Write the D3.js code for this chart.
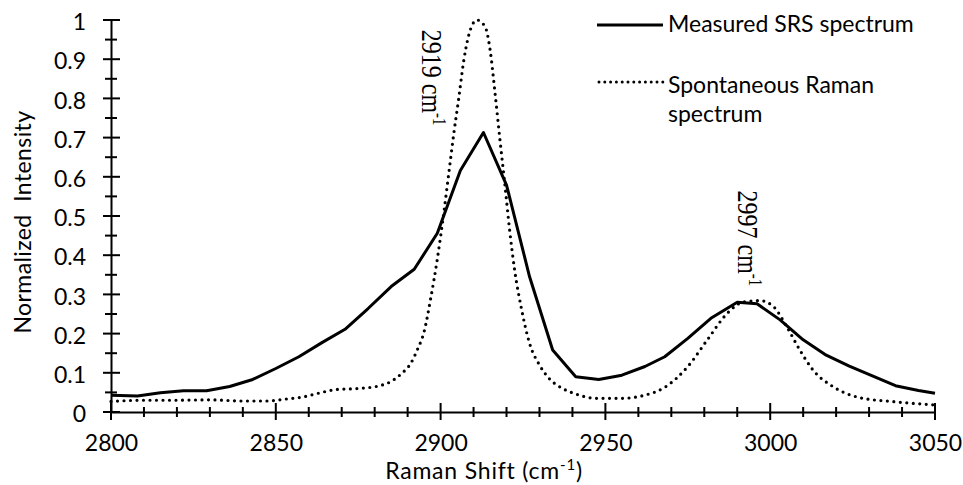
<!DOCTYPE html>
<meta charset="utf-8">
<head>
<style>
  body { margin: 0; background: #fff; }
  .tick-label { font: 23px Lato, sans-serif; fill: #000; }
  .title { font: 23px Lato, sans-serif; fill: #000; }
  .legend { font: 23px Lato, sans-serif; fill: #000; }
  .peak { font: 24px "Liberation Serif", "Times New Roman", serif; fill: #000; }
</style>
</head>
<body>
<svg id="chart"></svg>
<script src="https://d3js.org/d3.v7.min.js"></script>
<script>

// measured SRS spectrum (vertices of the solid line)
var srsShift = [2800, 2808, 2815, 2822, 2829, 2836, 2843, 2850, 2857, 2864, 2871, 2878, 2885, 2892,
                2899, 2906, 2913, 2920, 2927, 2934, 2941, 2948, 2955, 2962, 2968, 2975, 2982, 2990,
                2996, 3003, 3010, 3017, 3024, 3031, 3038, 3045, 3050];
var srsIntensity = [0.043, 0.041, 0.049, 0.054, 0.054, 0.065, 0.083, 0.111, 0.141, 0.177, 0.211, 0.264, 0.320, 0.364,
                    0.456, 0.616, 0.713, 0.579, 0.345, 0.158, 0.090, 0.083, 0.094, 0.116, 0.141, 0.188, 0.239, 0.280,
                    0.276, 0.235, 0.184, 0.145, 0.117, 0.092, 0.067, 0.055, 0.048];

// spontaneous Raman spectrum (dotted)
var ramanShift = [2800, 2810, 2820, 2830, 2840, 2847, 2853, 2858, 2863, 2868, 2875, 2881, 2885, 2888,
                  2891, 2893, 2895, 2897, 2899, 2901, 2902.5, 2904, 2905.5, 2907, 2908.5, 2911, 2913.5,
                  2915, 2916.5, 2918, 2919.5, 2921, 2922.5, 2924.5, 2927, 2930, 2933, 2937, 2941, 2947,
                  2955, 2962, 2968, 2975, 2981, 2987, 2992, 2997, 3001, 3005, 3009, 3013, 3019, 3027,
                  3038, 3050];
var ramanIntensity = [0.027, 0.030, 0.030, 0.031, 0.028, 0.028, 0.033, 0.038, 0.048, 0.057, 0.060, 0.066, 0.078, 0.097,
                      0.125, 0.160, 0.205, 0.290, 0.390, 0.510, 0.610, 0.710, 0.800, 0.895, 0.960, 1.000, 0.983,
                      0.925, 0.815, 0.695, 0.580, 0.460, 0.360, 0.265, 0.175, 0.120, 0.085, 0.060, 0.046, 0.035,
                      0.035, 0.043, 0.063, 0.116, 0.185, 0.252, 0.281, 0.284, 0.269, 0.218, 0.158, 0.107, 0.065, 0.037,
                      0.026, 0.018];

var xTicks = [2800, 2850, 2900, 2950, 3000, 3050];
var xMinorTicks = d3.range(2800, 3051, 10);
var yTicks = [0, 0.1, 0.2, 0.3, 0.4, 0.5, 0.6, 0.7, 0.8, 0.9, 1];
var yTickLabels = ["0", "0.1", "0.2", "0.3", "0.4", "0.5", "0.6", "0.7", "0.8", "0.9", "1"];
var yMinorTicks = d3.range(0, 1.001, 0.05);

var legendLabels = [["Measured SRS spectrum"], ["Spontaneous Raman", "spectrum"]];
var peakLabels = ["2919", "2997"];
var peakAnchors = [[2894.5, 0.975], [2990.2, 0.565]];   // shift, intensity where the text starts

var W = 963, H = 485;
var margin = {top: 20, right: 28, bottom: 73, left: 111},
    width = W - margin.left - margin.right,
    height = H - margin.top - margin.bottom;

var svg = d3.select("#chart").attr("width", W).attr("height", H);
var g = svg.append("g").attr("transform", "translate(" + margin.left + "," + margin.top + ")");

var x = d3.scaleLinear().domain([2800, 3050]).range([0, width]);
var y = d3.scaleLinear().domain([0, 1]).range([height, 0]);

// axes: domain + labels from d3, cross ticks drawn by hand
var xAxis = g.append("g")
    .attr("transform", "translate(0," + height + ")")
    .call(d3.axisBottom(x).tickValues(xTicks).tickSize(0).tickFormat(d3.format("d")));
xAxis.select(".domain").attr("stroke", "#000").attr("stroke-width", 2);
xAxis.selectAll("text").attr("class", "tick-label").attr("y", 39).attr("dy", 0);
xAxis.attr("font-size", null).attr("font-family", null);

var yAxis = g.append("g")
    .call(d3.axisLeft(y).tickValues(yTicks).tickSize(0).tickFormat(function(d, i) { return yTickLabels[i]; }));
yAxis.select(".domain").attr("stroke", "#000").attr("stroke-width", 2);
yAxis.selectAll("text").attr("class", "tick-label").attr("x", -25).attr("dy", "0.42em");
yAxis.attr("font-size", null).attr("font-family", null);

g.selectAll(".xminor").data(xMinorTicks).enter().append("line")
    .attr("x1", function(d) { return x(d); }).attr("x2", function(d) { return x(d); })
    .attr("y1", function(d) { return height - (d % 50 === 0 ? 9 : 5); })
    .attr("y2", function(d) { return height + (d % 50 === 0 ? 8 : 5); })
    .attr("stroke", "#000").attr("stroke-width", 2);

g.selectAll(".yminor").data(yMinorTicks).enter().append("line")
    .attr("y1", function(d) { return y(d); }).attr("y2", function(d) { return y(d); })
    .attr("x1", function(d, i) { return i % 2 === 0 ? -8 : -6; })
    .attr("x2", function(d, i) { return i % 2 === 0 ? 9 : 6; })
    .attr("stroke", "#000").attr("stroke-width", 2);

// lines
var solid = d3.line()
    .x(function(d) { return x(d[0]); })
    .y(function(d) { return y(d[1]); });
var smooth = d3.line()
    .x(function(d) { return x(d[0]); })
    .y(function(d) { return y(d[1]); })
    .curve(d3.curveMonotoneX);

g.append("path")
    .datum(d3.zip(ramanShift, ramanIntensity))
    .attr("d", smooth)
    .attr("fill", "none").attr("stroke", "#000")
    .attr("stroke-width", 3.2).attr("stroke-linecap", "round")
    .attr("stroke-dasharray", "0,6.5");

g.append("path")
    .datum(d3.zip(srsShift, srsIntensity))
    .attr("d", solid)
    .attr("fill", "none").attr("stroke", "#000")
    .attr("stroke-width", 3).attr("stroke-linejoin", "round");

// peak annotations (rotated, serif)
peakLabels.forEach(function(t, i) {
  var px = margin.left + x(peakAnchors[i][0]), py = margin.top + y(peakAnchors[i][1]);
  var txt = svg.append("text").attr("class", "peak")
      .attr("transform", "translate(" + px + "," + py + ") rotate(90) scale(1,1.2)");
  txt.append("tspan").text(t + " cm");
  txt.append("tspan").attr("font-size", 15).attr("dy", -9).text("-1");
});

// axis titles
svg.append("text").attr("class", "title")
    .attr("transform", "translate(31," + (margin.top + height / 2 + 6) + ") rotate(-90)")
    .attr("text-anchor", "middle")
    .style("white-space", "pre")
    .style("letter-spacing", "0.4px")
    .text("Normalized  Intensity");

var xt = svg.append("text").attr("class", "title")
    .attr("x", 484).attr("y", 479).attr("text-anchor", "middle")
    .style("letter-spacing", "0.8px");
xt.append("tspan").text("Raman Shift (cm");
xt.append("tspan").attr("font-size", 15).attr("dy", -9).text("-1");
xt.append("tspan").attr("dy", 9).text(")");

// legend
var legend = svg.append("g").attr("transform", "translate(597,25)");
legend.append("line").attr("x1", 0).attr("x2", 66).attr("y1", 0).attr("y2", 0)
    .attr("stroke", "#000").attr("stroke-width", 3);
legend.append("line").attr("x1", 2).attr("x2", 66).attr("y1", 57).attr("y2", 57)
    .attr("stroke", "#000").attr("stroke-width", 3).attr("stroke-linecap", "round")
    .attr("stroke-dasharray", "0,5.8");
legendLabels.forEach(function(lines, i) {
  var t = legend.append("text").attr("class", "legend")
      .attr("x", 71).attr("y", i === 0 ? 7 : 68);
  lines.forEach(function(s, j) {
    t.append("tspan").attr("x", 71).attr("dy", j === 0 ? 0 : 29).text(s);
  });
});

</script>
</body>
